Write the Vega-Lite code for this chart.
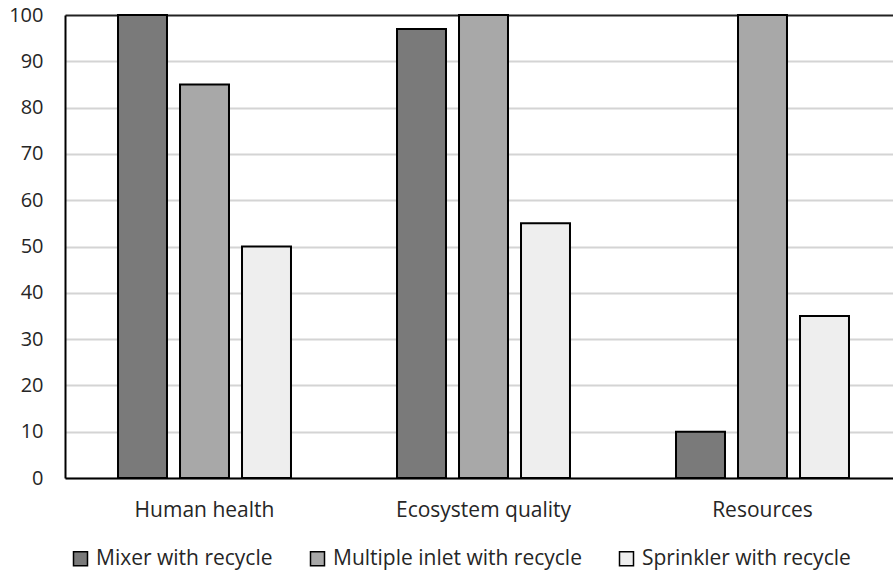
{
  "$schema": "https://vega.github.io/schema/vega-lite/v6.json",
  "width": 828,
  "height": 463,
  "autosize": {"type": "none"},
  "padding": {"left": 65, "top": 15, "right": 0, "bottom": 96},
  "background": "white",
  "config": {
    "view": {"stroke": null},
    "font": "Open Sans",
    "axis": {"labelFont": "Open Sans", "labelColor": "#262626", "labelFontSize": 20}
  },
  "data": {
    "values": [
      {"category": "Human health", "series": "Mixer with recycle", "value": 100},
      {"category": "Human health", "series": "Multiple inlet with recycle", "value": 85},
      {"category": "Human health", "series": "Sprinkler with recycle", "value": 50},
      {"category": "Ecosystem quality", "series": "Mixer with recycle", "value": 97},
      {"category": "Ecosystem quality", "series": "Multiple inlet with recycle", "value": 100},
      {"category": "Ecosystem quality", "series": "Sprinkler with recycle", "value": 55},
      {"category": "Resources", "series": "Mixer with recycle", "value": 10},
      {"category": "Resources", "series": "Multiple inlet with recycle", "value": 100},
      {"category": "Resources", "series": "Sprinkler with recycle", "value": 35}
    ]
  },
  "mark": {"type": "bar", "stroke": "black", "strokeWidth": 2},
  "encoding": {
    "x": {
      "field": "category",
      "type": "nominal",
      "sort": ["Human health", "Ecosystem quality", "Resources"],
      "scale": {"range": [0, 837], "paddingInner": 0, "paddingOuter": 0},
      "axis": {
        "title": null,
        "labelAngle": 0,
        "ticks": false,
        "labelFontSize": 21,
        "labelPadding": 21,
        "domainColor": "black",
        "domainWidth": 2
      }
    },
    "xOffset": {
      "field": "series",
      "type": "nominal",
      "sort": ["Mixer with recycle", "Multiple inlet with recycle", "Sprinkler with recycle"],
      "scale": {"paddingInner": 0.21, "paddingOuter": 0.855}
    },
    "y": {
      "field": "value",
      "type": "quantitative",
      "scale": {"domain": [0, 100], "nice": false},
      "axis": {
        "title": null,
        "values": [0, 10, 20, 30, 40, 50, 60, 70, 80, 90, 100],
        "ticks": false,
        "labelPadding": 22,
        "domainColor": "black",
        "domainWidth": 2,
        "grid": true,
        "gridColor": {"condition": {"test": "datum.value === 100", "value": "#222222"}, "value": "#d4d4d4"},
        "gridWidth": 2
      }
    },
    "fill": {
      "field": "series",
      "type": "nominal",
      "sort": ["Mixer with recycle", "Multiple inlet with recycle", "Sprinkler with recycle"],
      "scale": {"range": ["#7a7a7a", "#a8a8a8", "#eeeeee"]},
      "legend": {
        "title": null,
        "orient": "none",
        "direction": "horizontal",
        "legendX": 5,
        "legendY": 533,
        "symbolType": "square",
        "symbolSize": 196,
        "symbolStrokeColor": "black",
        "symbolStrokeWidth": 1.5,
        "symbolOpacity": 1,
        "labelFontSize": 21,
        "labelColor": "#262626",
        "labelFont": "Open Sans",
        "labelOffset": 5,
        "columnPadding": 34,
        "labelLimit": 400
      }
    }
  }
}
